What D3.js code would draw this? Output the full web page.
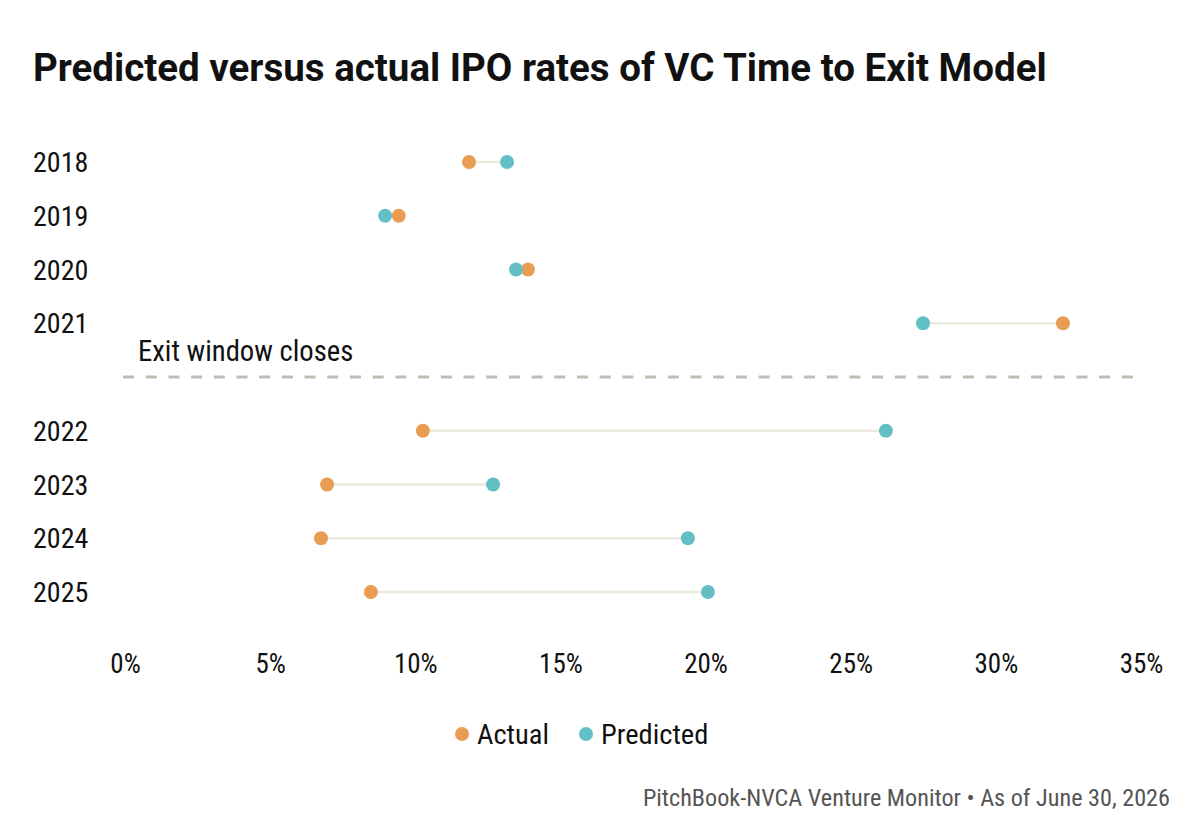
<!DOCTYPE html>
<html>
<head>
<meta charset="utf-8">
<script src="https://cdn.jsdelivr.net/npm/d3@7"></script>
<style>
  body { margin: 0; background: #fff; }
  svg text { font-family: "Roboto Condensed", "Liberation Sans Narrow", Roboto, sans-serif; }
</style>
</head>
<body>
<svg id="chart"></svg>
<script>
// data
const years = ["2018", "2019", "2020", "2021", "2022", "2023", "2024", "2025"];
const actual = [11.92, 9.5, 13.95, 32.38, 10.33, 7.03, 6.82, 8.54];
const predicted = [13.23, 9.03, 13.54, 27.56, 26.28, 12.75, 19.46, 20.15];
const xTicks = [0, 5, 10, 15, 20, 25, 30, 35];
const rowOrder = ["2018", "2019", "2020", "2021", "gap", "2022", "2023", "2024", "2025"];

const width = 1200;
const height = 822;
const orange = "#E99D53";
const teal = "#63BFC6";

const svg = d3.select('#chart')
    .attr('width', width)
    .attr('height', height);

// title
svg.append('text')
    .attr('x', 33)
    .attr('y', 81)
    .style('font-family', 'Roboto, sans-serif')
    .style('font-weight', 700)
    .style('font-size', '38.5px')
    .attr('fill', '#111')
    .text('Predicted versus actual IPO rates of VC Time to Exit Model');

const x = d3.scaleLinear()
    .domain([0, 35])
    .range([123, 1139]);

const y = d3.scalePoint()
    .domain(rowOrder)
    .range([162, 592]);

// year labels
svg.selectAll('.year')
    .data(years)
    .enter()
    .append('text')
    .attr('class', 'year')
    .attr('x', 33)
    .attr('y', (d) => y(d) + 10)
    .style('font-size', '28px')
    .attr('fill', '#111')
    .text((d) => d);

// x axis labels
const xAxis = d3.axisBottom(x)
    .tickValues(xTicks)
    .tickFormat((d) => d + '%')
    .tickSize(0);

const axisG = svg.append('g')
    .attr('transform', 'translate(2, 651)')
    .call(xAxis);
axisG.select('.domain').remove();
axisG.selectAll('text')
    .style('font-size', '27px')
    .attr('fill', '#111')
    .attr('dy', '0.71em');

// exit window line
svg.append('line')
    .attr('x1', 123)
    .attr('x2', 1139)
    .attr('y1', y('gap'))
    .attr('y2', y('gap'))
    .attr('stroke', '#BFBDB3')
    .attr('stroke-width', 3)
    .attr('stroke-dasharray', '11,11.7');

svg.append('text')
    .attr('x', 138)
    .attr('y', 361)
    .style('font-size', '28.7px')
    .attr('fill', '#111')
    .text('Exit window closes');

const rows = years.map((yr, i) => ({ year: yr, a: actual[i], p: predicted[i] }));

// connectors
svg.selectAll('.conn')
    .data(rows)
    .enter()
    .append('line')
    .attr('class', 'conn')
    .attr('x1', (d) => x(d.a))
    .attr('x2', (d) => x(d.p))
    .attr('y1', (d) => y(d.year))
    .attr('y2', (d) => y(d.year))
    .attr('stroke', '#ECE9DF')
    .attr('stroke-width', 2.5);

// dots - actual then predicted
svg.selectAll('.dot-a')
    .data(rows)
    .enter()
    .append('circle')
    .attr('cx', (d) => x(d.a))
    .attr('cy', (d) => y(d.year))
    .attr('r', 7)
    .attr('fill', orange);

svg.selectAll('.dot-p')
    .data(rows)
    .enter()
    .append('circle')
    .attr('cx', (d) => x(d.p))
    .attr('cy', (d) => y(d.year))
    .attr('r', 7)
    .attr('fill', teal);

// legend
const legend = svg.append('g')
    .attr('transform', 'translate(462, 734)');

const legendItems = [
    { name: 'Actual', color: orange, dx: 0 },
    { name: 'Predicted', color: teal, dx: 124 }
];

const lg = legend.selectAll('g')
    .data(legendItems)
    .enter()
    .append('g')
    .attr('transform', (d) => `translate(${d.dx}, 0)`);

lg.append('circle')
    .attr('r', 7)
    .attr('fill', (d) => d.color);

lg.append('text')
    .attr('x', 15)
    .attr('y', 10)
    .style('font-size', '28.5px')
    .attr('fill', '#111')
    .text((d) => d.name);

// source
svg.append('text')
    .attr('x', 1170)
    .attr('y', 806)
    .attr('text-anchor', 'end')
    .style('font-size', '24.2px')
    .attr('fill', '#555')
    .text('PitchBook-NVCA Venture Monitor • As of June 30, 2026');
</script>
</body>
</html>
